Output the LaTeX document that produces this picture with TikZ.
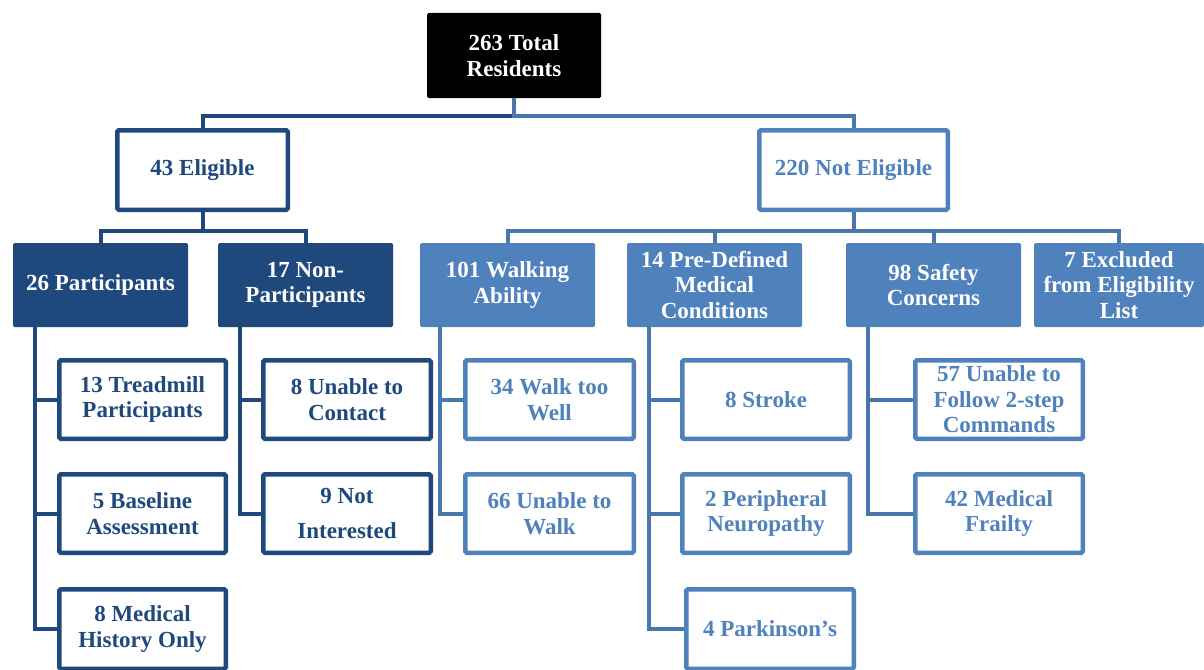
\documentclass[tikz,border=0pt]{standalone}
\usepackage{fontspec}
\setmainfont{Liberation Serif}
\definecolor{dk}{HTML}{1F497D}
\definecolor{lt}{HTML}{4F81BD}
\definecolor{md}{HTML}{4A76AE}
\newcommand\Bx[8]{\node[#2, minimum width={#6-#4-#3}, minimum height={#7-#5-#3}] (#1) at ({(#4+#6)/2},{(#5+#7)/2}) {#8};}
\begin{document}
\begin{tikzpicture}[x=1pt,y=-1pt,
  box/.style={rectangle, rounded corners=1.5pt, align=center, inner sep=0pt,
    font=\fontsize{23}{25.5}\selectfont\bfseries},
  fillbox/.style={box, fill=#1, text=white},
  outbox/.style={box, draw=#1, line width=4.5pt, fill=white, text=#1},
  conn/.style={line width=4pt, draw=#1}]
\useasboundingbox (0,0) rectangle (1204,669);
% level 0/1
\Bx{root}{fillbox=black}{0}{427}{13}{601}{98}{263 Total\\Residents}
\Bx{elig}{outbox=dk}{4.5}{115}{128}{290}{212}{43 Eligible}
\Bx{nelig}{outbox=lt}{4.5}{757}{128}{950}{212}{220 Not Eligible}
% level 2
\Bx{part}{fillbox=dk}{0}{13}{243}{188}{327}{26 Participants}
\Bx{npart}{fillbox=dk}{0}{218}{243}{393}{327}{17 Non-\\Participants}
\Bx{walk}{fillbox=lt}{0}{420}{243}{595}{327}{101 Walking\\Ability}
\Bx{pred}{fillbox=lt}{0}{627}{243}{802}{327}{14 Pre-Defined\\Medical\\Conditions}
\Bx{safe}{fillbox=lt}{0}{846}{243}{1021}{327}{98 Safety\\Concerns}
\Bx{excl}{fillbox=lt}{0}{1034}{243}{1204}{327}{7 Excluded\\from Eligibility\\List}
% level 3
\Bx{tread}{outbox=dk}{4.5}{57}{358}{228}{441}{13 Treadmill\\Participants}
\Bx{base}{outbox=dk}{4.5}{57}{472}{228}{555}{5 Baseline\\Assessment}
\Bx{mhist}{outbox=dk}{4.5}{57}{587}{228}{671}{8 Medical\\History Only}
\Bx{cont}{outbox=dk}{4.5}{261}{358}{433}{441}{8 Unable to\\Contact}
\Bx{nint}{outbox=dk}{4.5}{261}{472}{433}{555}{9 Not\\[9pt]Interested}
\Bx{well}{outbox=lt}{4.5}{463}{358}{636}{441}{34 Walk too\\Well}
\Bx{uwalk}{outbox=lt}{4.5}{463}{472}{636}{555}{66 Unable to\\Walk}
\Bx{strk}{outbox=lt}{4.5}{680}{358}{852}{441}{8 Stroke}
\Bx{neur}{outbox=lt}{4.5}{680}{472}{852}{555}{2 Peripheral\\Neuropathy}
\Bx{park}{outbox=lt}{4.5}{684}{587}{856}{671}{4 Parkinson’s}
\Bx{foll}{outbox=lt}{4.5}{913}{358}{1085}{441}{57 Unable to\\Follow 2-step\\Commands}
\Bx{frail}{outbox=lt}{4.5}{913}{472}{1085}{555}{42 Medical\\Frailty}
% connectors
\begin{scope}[on background layer/.style={}]
\draw[conn=dk] (root.south) -- ++(0,18) -| (elig.north);
\draw[conn=md] (root.south) -- ++(0,18) -| (nelig.north);
\draw[conn=dk] (elig.south) -- ++(0,19) -| (part.north);
\draw[conn=dk] (elig.south) -- ++(0,19) -| (npart.north);
\draw[conn=md] (nelig.south) -- ++(0,19) -| (walk.north);
\draw[conn=md] (nelig.south) -- ++(0,19) -| (pred.north);
\draw[conn=md] (nelig.south) -- ++(0,19) -| (safe.north);
\draw[conn=md] (nelig.south) -- ++(0,19) -| (excl.north);
\draw[conn=dk] ([xshift=22pt]part.south west) |- (tread.west);
\draw[conn=dk] ([xshift=22pt]part.south west) |- (base.west);
\draw[conn=dk] ([xshift=22pt]part.south west) |- (mhist.west);
\draw[conn=dk] ([xshift=22pt]npart.south west) |- (cont.west);
\draw[conn=dk] ([xshift=22pt]npart.south west) |- (nint.west);
\draw[conn=md] ([xshift=20pt]walk.south west) |- (well.west);
\draw[conn=md] ([xshift=20pt]walk.south west) |- (uwalk.west);
\draw[conn=md] ([xshift=22pt]pred.south west) |- (strk.west);
\draw[conn=md] ([xshift=22pt]pred.south west) |- (neur.west);
\draw[conn=md] ([xshift=22pt]pred.south west) |- (park.west);
\draw[conn=md] ([xshift=22pt]safe.south west) |- (foll.west);
\draw[conn=md] ([xshift=22pt]safe.south west) |- (frail.west);
\end{scope}
\end{tikzpicture}
\end{document}
